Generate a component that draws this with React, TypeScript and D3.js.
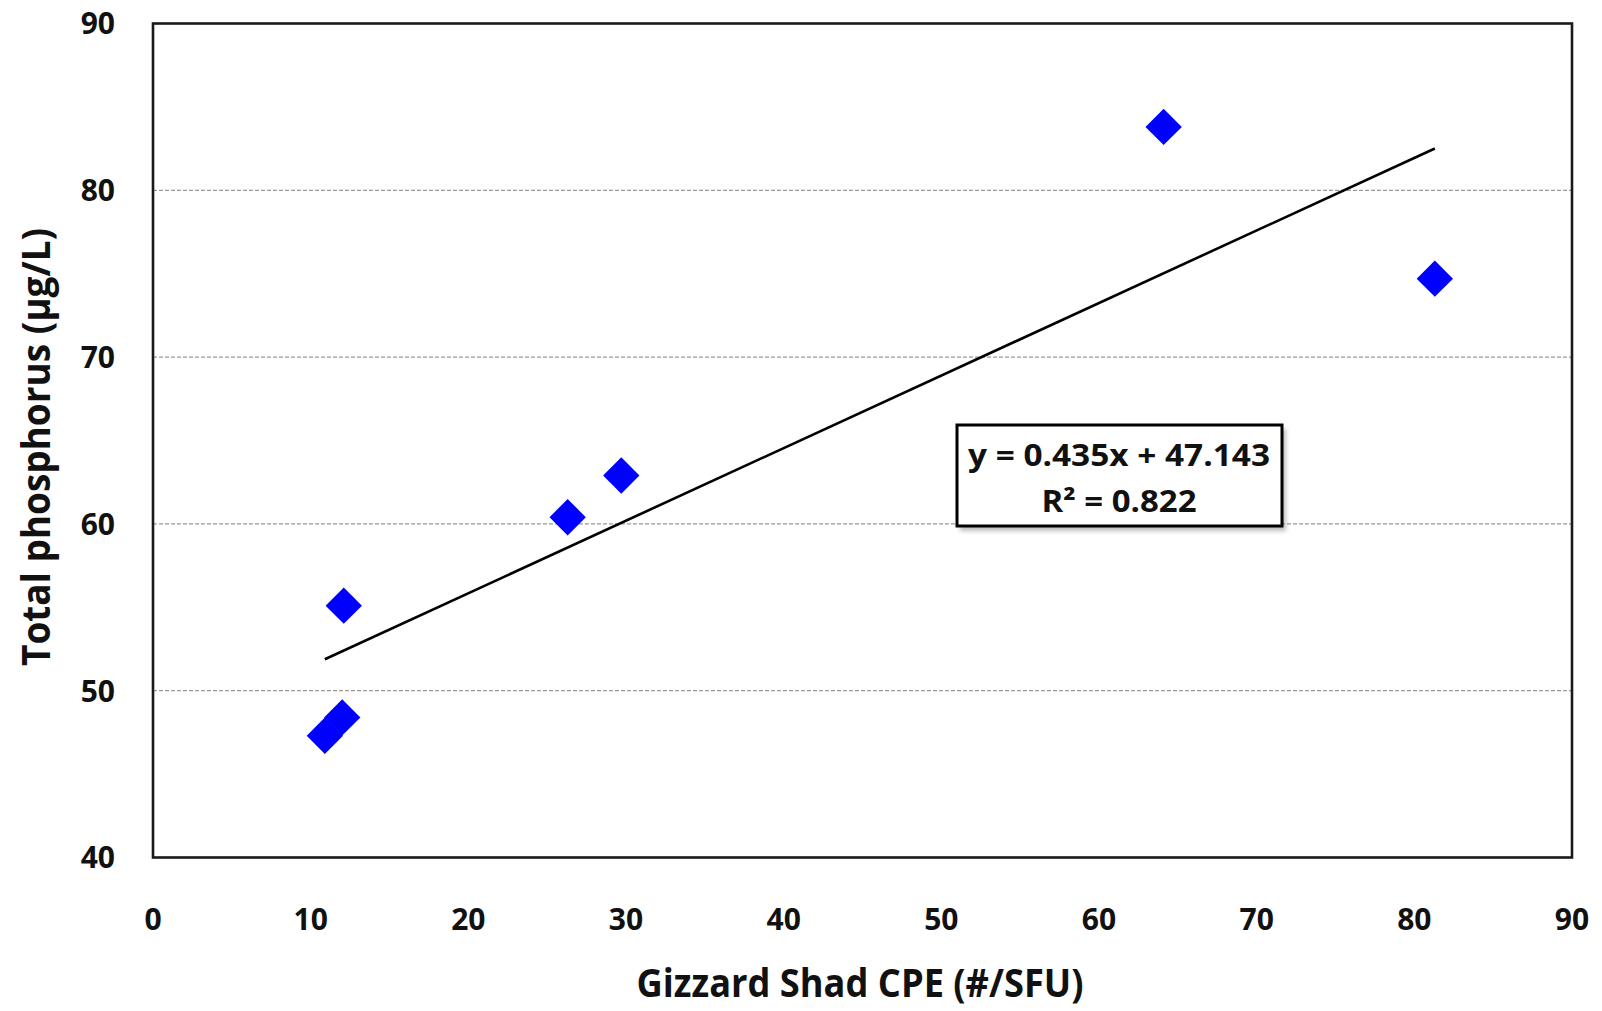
import React from "react";
import * as d3 from "d3";

const cpe = [10.9, 12.0, 12.1, 26.3, 29.7, 64.1, 81.3];
const tp = [47.3, 48.4, 55.1, 60.4, 62.9, 83.8, 74.7];
const xTicks = [0, 10, 20, 30, 40, 50, 60, 70, 80, 90];
const yTicks = [40, 50, 60, 70, 80, 90];
const gridTicks = [50, 60, 70, 80];
const trend = { slope: 0.435, intercept: 47.143 };
const eqLines = ["y = 0.435x + 47.143", "R² = 0.822"];
const xTitle = "Gizzard Shad CPE (#/SFU)";
const yTitle = "Total phosphorus (µg/L)";

const W = 1602;
const H = 1011;
const FONT = "'Open Sans', 'Liberation Sans', sans-serif";

export default function App() {
  const x = d3.scaleLinear().domain([0, 90]).range([153, 1572]);
  const y = d3.scaleLinear().domain([40, 90]).range([857.5, 23.5]);
  const pts = cpe.map((c, i) => ({ x: c, y: tp[i] }));
  const xMin = d3.min(cpe) as number;
  const xMax = d3.max(cpe) as number;
  const line = d3
    .line<number>()
    .x((d) => x(d))
    .y((d) => y(trend.slope * d + trend.intercept));
  const diamond = d3.symbol().type(d3.symbolSquare).size(660)();

  const [x0, x1] = x.range();
  const [y0, y1] = y.range();

  return (
    <svg
      width={W}
      height={H}
      style={{ position: "absolute", left: 0, top: 0, display: "block", background: "#fff" }}
    >
      <defs>
        <filter id="sh" x="-10%" y="-10%" width="130%" height="140%">
          <feGaussianBlur stdDeviation="2" />
        </filter>
      </defs>
      <rect x={0} y={0} width={W} height={H} fill="#fff" />
      {gridTicks.map((t) => (
        <line
          key={t}
          x1={x0}
          x2={x1}
          y1={y(t)}
          y2={y(t)}
          stroke="#9a9a9a"
          strokeWidth={1.3}
          strokeDasharray="4 2"
        />
      ))}
      <rect
        x={x0}
        y={y1}
        width={x1 - x0}
        height={y0 - y1}
        fill="none"
        stroke="#1a1a1a"
        strokeWidth={2.6}
      />
      {yTicks.map((t) => (
        <text
          key={t}
          x={115}
          y={y(t)}
          dy="0.36em"
          textAnchor="end"
          fontFamily={FONT}
          fontWeight="bold"
          fontSize={30}
          fill="#111"
        >
          {t}
        </text>
      ))}
      {xTicks.map((t) => (
        <text
          key={t}
          x={x(t)}
          y={930}
          textAnchor="middle"
          fontFamily={FONT}
          fontWeight="bold"
          fontSize={30}
          fill="#111"
        >
          {t}
        </text>
      ))}
      <path
        d={line([xMin, xMax]) || ""}
        fill="none"
        stroke="#000"
        strokeWidth={2.6}
      />
      {pts.map((p, i) => (
        <path
          key={i}
          d={diamond || ""}
          transform={`translate(${x(p.x)},${y(p.y)}) rotate(45)`}
          fill="#0000ff"
        />
      ))}
      <g>
        <rect x={960} y={429} width={326} height={102} fill="#888" opacity={0.55} filter="url(#sh)" />
        <rect x={957} y={425} width={325} height={101} fill="#fff" stroke="#000" strokeWidth={3} />
        {eqLines.map((s, i) => (
          <text
            key={i}
            x={1119}
            y={455 + i * 46.5}
            dy="0.36em"
            textAnchor="middle"
            fontFamily={FONT}
            fontWeight="bold"
            fontSize={30}
            fill="#111"
            textLength={i === 0 ? 302 : 155}
            lengthAdjust="spacingAndGlyphs"
          >
            {s}
          </text>
        ))}
      </g>
      <text
        x={860}
        y={997}
        textAnchor="middle"
        fontFamily={FONT}
        fontWeight="bold"
        fontSize={39}
        fill="#111"
        textLength={447}
        lengthAdjust="spacingAndGlyphs"
      >
        {xTitle}
      </text>
      <text
        transform={`translate(50,447) rotate(-90)`}
        x={0}
        y={0}
        textAnchor="middle"
        fontFamily={FONT}
        fontWeight="bold"
        fontSize={39}
        fill="#111"
        textLength={438}
        lengthAdjust="spacingAndGlyphs"
      >
        {yTitle}
      </text>
    </svg>
  );
}
